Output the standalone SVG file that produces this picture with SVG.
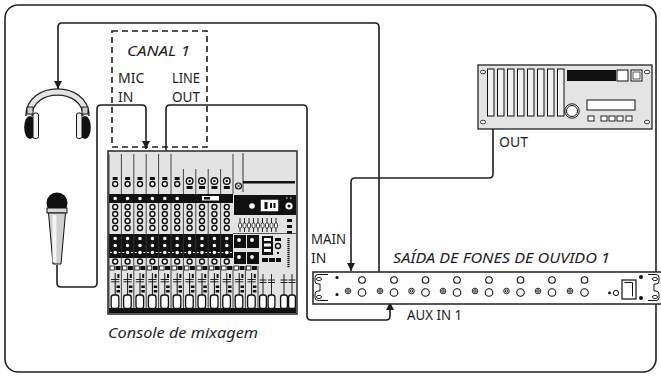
<svg xmlns="http://www.w3.org/2000/svg" width="661" height="376" viewBox="0 0 661 376">
<defs>
<style>
.ln{fill:none;stroke:#1e1e1e;stroke-width:1.6;stroke-linejoin:round}
.t{font-family:"Noto Sans","DejaVu Sans",sans-serif;fill:#1e1e1e;font-size:14px}
.ti{font-style:italic;font-size:15px}
.k{fill:#fff;stroke:#111;stroke-width:1.4}
.dv{stroke:#333;stroke-width:0.9}
.bk{fill:#111}
.wb{fill:#fff;stroke:#111;stroke-width:0.8}
</style>
<marker id="ah" viewBox="0 0 10 10" refX="10" refY="5" markerWidth="8" markerHeight="9" orient="auto" markerUnits="userSpaceOnUse">
<path d="M0,0 L10,5 L0,10 z" fill="#1e1e1e"/>
</marker>
<g id="chb">
<line class="dv" x1="0" y1="203" x2="0" y2="266"/>
<circle class="k" cx="6.2" cy="207" r="2.5"/>
<circle class="k" cx="6.2" cy="214" r="2.5"/>
<circle class="k" cx="6.2" cy="221" r="2.5"/>
<circle class="k" cx="6.2" cy="228" r="2.5"/>
<circle class="k" cx="6.2" cy="238.5" r="2.5"/>
<circle class="k" cx="6.2" cy="245.5" r="2.5"/>
<circle class="k" cx="6.2" cy="252.5" r="2.5"/>
<path d="M1,252.5h1.8 M9.6,252.5h1.8" stroke="#fff" stroke-width="1"/>
<circle class="k" cx="6.2" cy="261.5" r="2.5"/>
</g>
<g id="fd">
<line class="dv" x1="0" y1="266" x2="0" y2="308"/>
<rect class="wb" x="1" y="266" width="4.5" height="4"/>
<rect class="bk" x="6.5" y="266" width="5" height="4"/>
<line x1="6.2" y1="273" x2="6.2" y2="296" stroke="#111" stroke-width="1"/>
<path d="M2,279.5h8.4 M2,281.8h8.4" stroke="#111" stroke-width="0.9"/>
<rect class="bk" x="8.4" y="274" width="2" height="4"/>
<rect class="bk" x="7.5" y="285.5" width="3.5" height="2.5"/>
<rect class="bk" x="7.5" y="290" width="3.5" height="2.5"/>
<rect x="2.2" y="295" width="7.6" height="13.5" rx="2.5" fill="#fff" stroke="#111" stroke-width="1.3"/>
</g>
<g id="chm">
<line class="dv" x1="0" y1="154" x2="0" y2="194"/>
<rect class="bk" x="3.7" y="177" width="5" height="3"/>
<circle class="k" cx="6.2" cy="184" r="2.5"/>
<circle class="k" cx="6.2" cy="198.5" r="2.5"/>
</g>
<g id="chs">
<line class="dv" x1="0" y1="169" x2="0" y2="194"/>
<circle cx="6.2" cy="181" r="3.3" fill="#fff" stroke="#111" stroke-width="1.4"/>
<circle cx="6.2" cy="181" r="1.3" fill="#111"/>
<rect class="bk" x="3.2" y="186" width="6" height="3"/>
</g>
</defs>

<rect x="5" y="5" width="651" height="367" rx="13" fill="#fff" stroke="#222" stroke-width="1.6"/>

<g id="connectors">
<path class="ln" d="M379,272 V27 Q379,23 375,23 H62 Q58,23 58,27 V89" marker-end="url(#ah)"/>
<path class="ln" d="M57,265 V283 Q57,287 61,287 H93 Q97,287 97,283 V109 Q97,105 101,105 H142 Q146,105 146,109 V149" marker-end="url(#ah)"/>
<path class="ln" d="M166,151 V109 Q166,105 170,105 H303 Q307,105 307,109 V316 Q307,320 311,320 H386 Q390,320 390,316 V302" marker-end="url(#ah)"/>
<path class="ln" d="M493,129 V174 Q493,178 489,178 H355 Q351,178 351,182 V271" marker-end="url(#ah)"/>
</g>

<g id="canal1">
<rect x="112" y="31" width="95" height="116" fill="none" stroke="#1e1e1e" stroke-width="1.6" stroke-dasharray="6,4"/>
<text class="t ti" x="127" y="56" textLength="63" lengthAdjust="spacingAndGlyphs">CANAL 1</text>
<text class="t" x="118" y="83">MIC</text>
<text class="t" x="118" y="102">IN</text>
<text class="t" x="172" y="83" textLength="28" lengthAdjust="spacingAndGlyphs">LINE</text>
<text class="t" x="172" y="102" textLength="28" lengthAdjust="spacingAndGlyphs">OUT</text>
</g>

<g id="headphones">
<path d="M29,116 C29,84 86,84 86,116" fill="none" stroke="#222" stroke-width="7.5"/>
<path d="M29,116 C29,84 86,84 86,116" fill="none" stroke="#e4e4e4" stroke-width="4.8"/>
<rect x="27" y="107" width="6" height="7" fill="#ccc" stroke="#111" stroke-width="0.9"/>
<rect x="82" y="107" width="6" height="7" fill="#ccc" stroke="#111" stroke-width="0.9"/>
<ellipse cx="30" cy="127.5" rx="5.8" ry="11.5" fill="#111"/>
<rect x="33" y="113" width="5.5" height="25.5" rx="2" fill="#f0f0f0" stroke="#111" stroke-width="1"/>
<ellipse cx="85" cy="127.5" rx="5.8" ry="11.5" fill="#111"/>
<rect x="76.5" y="113" width="5.5" height="25.5" rx="2" fill="#f0f0f0" stroke="#111" stroke-width="1"/>
</g>

<g id="microphone">
<circle cx="57" cy="203" r="10.5" fill="#111"/>
<rect x="47" y="208" width="20" height="5" fill="#d8d8d8" stroke="#111" stroke-width="1"/>
<path d="M48.5,213 L65.5,213 L61,264 L53,264 Z" fill="#cfcfcf" stroke="#111" stroke-width="1"/>
<rect x="52.5" y="215" width="4" height="47" fill="#f4f4f4"/>
</g>

<g id="mixer">
<rect x="108" y="151" width="189" height="163" fill="#e3e3e3" stroke="#333" stroke-width="1.6"/>
<rect class="bk" x="109" y="194" width="124" height="9"/>
<rect class="bk" x="109" y="234" width="124" height="24"/>
<rect class="bk" x="109" y="308" width="187" height="5"/>
<use href="#chm" x="109"/><use href="#chm" x="121.4"/><use href="#chm" x="133.8"/>
<use href="#chm" x="146.2"/><use href="#chm" x="158.6"/><use href="#chm" x="171"/>
<use href="#chs" x="183.4"/><use href="#chs" x="195.8"/><use href="#chs" x="208.2"/><use href="#chs" x="220.6"/>
<rect x="202" y="196" width="17" height="4.5" fill="#fff"/>
<rect x="204" y="197" width="6" height="2.5" fill="#111"/>
<use href="#chb" x="109"/><use href="#chb" x="121.4"/><use href="#chb" x="133.8"/>
<use href="#chb" x="146.2"/><use href="#chb" x="158.6"/><use href="#chb" x="171"/>
<use href="#chb" x="183.4"/><use href="#chb" x="195.8"/><use href="#chb" x="208.2"/><use href="#chb" x="220.6"/>
<use href="#fd" x="109"/><use href="#fd" x="121.4"/><use href="#fd" x="133.8"/>
<use href="#fd" x="146.2"/><use href="#fd" x="158.6"/><use href="#fd" x="171"/>
<use href="#fd" x="183.4"/><use href="#fd" x="195.8"/><use href="#fd" x="208.2"/><use href="#fd" x="220.6"/>
<use href="#fd" x="233"/><use href="#fd" x="245.4"/>
<line class="dv" x1="233" y1="154" x2="233" y2="194"/>
<line x1="243" y1="153" x2="243" y2="192" stroke="#333" stroke-width="1"/>
<rect class="bk" x="243" y="181" width="52" height="2.5"/>
<circle cx="238.5" cy="186" r="3" fill="#fff" stroke="#111" stroke-width="1.2"/>
<path d="M236.5,184 l4,4 M240.5,184 l-4,4" stroke="#111" stroke-width="0.8"/>
<rect class="bk" x="234" y="195" width="62" height="20"/>
<circle cx="252" cy="206" r="2.8" fill="#fff"/>
<rect x="261" y="200" width="17" height="11" fill="#fff" stroke="#fff" stroke-width="0.5"/>
<rect class="bk" x="264.5" y="202" width="3" height="7"/>
<rect class="bk" x="270" y="203" width="2" height="5"/><rect class="bk" x="273.5" y="203" width="2" height="5"/>
<circle cx="289" cy="206" r="3.6" fill="#fff"/>
<circle cx="289" cy="206" r="1.5" fill="#111"/>
<path d="M286,198h1.5 M290,198h1.5" stroke="#fff" stroke-width="1"/>
<g stroke="#111" stroke-width="0.9">
<path d="M240,218v14 M244.5,218v14 M249,218v14 M253.5,218v14 M258,218v14 M262.5,218v14 M267,218v14 M271.5,218v14 M276,218v14"/>
</g>
<g fill="#fff" stroke="#111" stroke-width="0.8">
<rect x="238.5" y="223" width="3" height="5" rx="1.2"/><rect x="243" y="223" width="3" height="5" rx="1.2"/>
<rect x="247.5" y="223" width="3" height="5" rx="1.2"/><rect x="252" y="223" width="3" height="5" rx="1.2"/>
<rect x="256.5" y="223" width="3" height="5" rx="1.2"/><rect x="261" y="223" width="3" height="5" rx="1.2"/>
<rect x="265.5" y="223" width="3" height="5" rx="1.2"/><rect x="270" y="223" width="3" height="5" rx="1.2"/>
<rect x="274.5" y="223" width="3" height="5" rx="1.2"/>
</g>
<rect class="bk" x="287" y="219" width="5" height="3"/>
<rect class="bk" x="287" y="225" width="5" height="3"/>
<rect class="bk" x="287" y="231" width="5" height="3"/>
<line x1="233" y1="233.5" x2="296" y2="233.5" stroke="#333" stroke-width="0.8"/>
<rect class="bk" x="234" y="235" width="12" height="13"/>
<rect class="bk" x="247" y="235" width="12" height="13"/>
<rect class="bk" x="234" y="252" width="12" height="12"/>
<rect class="bk" x="247" y="252" width="12" height="12"/>
<circle class="k" cx="239" cy="240" r="2.6"/><circle class="k" cx="252" cy="240" r="2.6"/>
<circle class="k" cx="239" cy="257" r="2.6"/><circle class="k" cx="252" cy="257" r="2.6"/>
<rect class="bk" x="262" y="236" width="11" height="19"/>
<rect x="264" y="238" width="7" height="3" fill="#fff"/>
<rect x="264" y="243.5" width="7" height="3" fill="#fff"/>
<rect x="264" y="249" width="7" height="3" fill="#fff"/>
<rect class="bk" x="275" y="238" width="6" height="3"/>
<circle class="k" cx="278" cy="246" r="2.5"/>
<rect class="bk" x="277" y="252" width="2" height="2"/>
<line x1="288.5" y1="238" x2="288.5" y2="268" stroke="#111" stroke-width="2.2" stroke-dasharray="1.2,0.8"/>
<rect class="bk" x="262" y="258" width="6" height="4"/><rect class="bk" x="269" y="258" width="6" height="4"/>
<rect class="bk" x="276" y="258" width="5" height="4"/>
<line class="dv" x1="258" y1="266" x2="258" y2="308"/>
<g stroke="#111" stroke-width="0.9">
<path d="M263,274v22 M271.5,274v22 M284,274v22 M292,274v22"/>
<path d="M259.5,280h7 M268,280h7 M280.5,280h7 M288.5,280h7 M259.5,282.5h7 M268,282.5h7 M280.5,282.5h7 M288.5,282.5h7"/>
</g>
<g fill="#fff" stroke="#111" stroke-width="1.3">
<rect x="259.6" y="295" width="6.8" height="13.5" rx="2.3"/>
<rect x="268.1" y="295" width="6.8" height="13.5" rx="2.3"/>
<rect x="280.6" y="295" width="6.8" height="13.5" rx="2.3"/>
<rect x="288.6" y="295" width="6.8" height="13.5" rx="2.3"/>
</g>
<text class="t ti" x="108" y="338" textLength="150" lengthAdjust="spacingAndGlyphs">Console de mixagem</text>
</g>

<g id="effects-rack">
<rect x="478" y="65" width="174" height="64" fill="#e4e4e4" stroke="#222" stroke-width="1.3"/>
<g fill="#fff" stroke="#111" stroke-width="0.8">
<ellipse cx="483" cy="72" rx="2.6" ry="1.8"/><ellipse cx="483" cy="122" rx="2.6" ry="1.8"/>
<ellipse cx="647" cy="72" rx="2.6" ry="1.8"/><ellipse cx="647" cy="122" rx="2.6" ry="1.8"/>
</g>
<g fill="#f2f2f2" stroke="#111" stroke-width="1">
<rect x="487.5" y="69" width="6.5" height="47"/><rect x="497.5" y="69" width="6.5" height="47"/>
<rect x="507.5" y="69" width="6.5" height="47"/><rect x="517.5" y="69" width="6.5" height="47"/>
<rect x="527.5" y="69" width="6.5" height="47"/><rect x="537.5" y="69" width="6.5" height="47"/>
<rect x="547.5" y="69" width="6.5" height="47"/><rect x="557.5" y="69" width="6.5" height="47"/>
</g>
<rect x="567" y="70" width="49" height="11" fill="#111"/>
<rect x="617" y="70" width="11" height="11" fill="#fff" stroke="#111" stroke-width="1"/>
<rect x="631" y="70" width="11" height="11" fill="#fff" stroke="#111" stroke-width="1"/>
<rect x="633" y="72" width="7" height="7" fill="#fff" stroke="#111" stroke-width="0.7"/>
<circle cx="572" cy="111" r="7.2" fill="#fff" stroke="#111" stroke-width="1"/>
<circle cx="572" cy="111" r="5.5" fill="#fff" stroke="#111" stroke-width="1"/>
<rect x="587" y="100" width="48" height="10" fill="#fff" stroke="#111" stroke-width="1"/>
<g fill="#fff" stroke="#111" stroke-width="0.9">
<rect x="588" y="116" width="6" height="5"/><rect x="601" y="116" width="6" height="5"/>
<rect x="609" y="116" width="6" height="5"/><rect x="617" y="116" width="6" height="5"/>
<rect x="626" y="116" width="6" height="5"/>
</g>
<text class="t" x="499" y="147" textLength="29" lengthAdjust="spacingAndGlyphs">OUT</text>
</g>

<g id="headphone-amp">
<rect x="313" y="272" width="350" height="32" fill="#fff" stroke="#222" stroke-width="1.5"/>
<path d="M328,274.5 H318 a3,3 0 0 0 -3,3 v3.5 a3,3 0 0 0 3,3 h2 v7 h-2 a3,3 0 0 0 -3,3 v3.5 a3,3 0 0 0 3,3 h10" fill="none" stroke="#111" stroke-width="1"/>
<path d="M648,274.5 H656 a3,3 0 0 1 3,3 v3.5 a3,3 0 0 1 -3,3 h-2 v7 h2 a3,3 0 0 1 3,3 v3.5 a3,3 0 0 1 -3,3 h-8" fill="none" stroke="#111" stroke-width="1"/>
<g fill="#fff" stroke="#111" stroke-width="0.9">
<ellipse cx="319" cy="279" rx="2.6" ry="1.6"/><ellipse cx="319" cy="297" rx="2.6" ry="1.6"/>
<ellipse cx="655" cy="279" rx="2.6" ry="1.6"/><ellipse cx="655" cy="297" rx="2.6" ry="1.6"/>
</g>
<circle cx="337" cy="277.5" r="1.6" fill="#111"/><circle cx="337" cy="294.5" r="1.6" fill="#111"/>
<g fill="#fff" stroke="#111" stroke-width="1.1">
<circle cx="362" cy="280" r="3.3"/><circle cx="394" cy="280" r="3.3"/><circle cx="425.5" cy="280" r="3.3"/>
<circle cx="457" cy="280" r="3.3"/><circle cx="489" cy="280" r="3.3"/><circle cx="520.5" cy="280" r="3.3"/>
<circle cx="552" cy="280" r="3.3"/><circle cx="584.5" cy="280" r="3.3"/>
<circle cx="362" cy="292.5" r="3.8"/><circle cx="394" cy="292.5" r="3.8"/><circle cx="425.5" cy="292.5" r="3.8"/>
<circle cx="457" cy="292.5" r="3.8"/><circle cx="489" cy="292.5" r="3.8"/><circle cx="520.5" cy="292.5" r="3.8"/>
<circle cx="552" cy="292.5" r="3.8"/><circle cx="584.5" cy="292.5" r="3.8"/>
</g>
<g fill="#fff" stroke="#111" stroke-width="0.9">
<circle cx="348" cy="291" r="2.8"/><circle cx="380" cy="291" r="2.8"/><circle cx="411.5" cy="291" r="2.8"/>
<circle cx="443" cy="291" r="2.8"/><circle cx="475" cy="291" r="2.8"/><circle cx="506.5" cy="291" r="2.8"/>
<circle cx="538" cy="291" r="2.8"/><circle cx="570" cy="291" r="2.8"/>
<circle cx="348" cy="291" r="1.3"/><circle cx="380" cy="291" r="1.3"/><circle cx="411.5" cy="291" r="1.3"/>
<circle cx="443" cy="291" r="1.3"/><circle cx="475" cy="291" r="1.3"/><circle cx="506.5" cy="291" r="1.3"/>
<circle cx="538" cy="291" r="1.3"/><circle cx="570" cy="291" r="1.3"/>
</g>
<circle cx="609.5" cy="293" r="1.4" fill="#111"/>
<circle cx="616" cy="293" r="2.6" fill="#fff" stroke="#111" stroke-width="1"/>
<rect x="622" y="280" width="14" height="19" fill="#fff" stroke="#111" stroke-width="1.2"/>
<path d="M624.5,282.5 h8 v14" fill="none" stroke="#111" stroke-width="1"/>
<circle cx="641" cy="277" r="2" fill="#111"/><circle cx="641" cy="298" r="2" fill="#111"/>
<text class="t ti" x="393" y="263" textLength="217" lengthAdjust="spacingAndGlyphs">SAÍDA DE FONES DE OUVIDO 1</text>
<text class="t" x="311" y="244" textLength="35" lengthAdjust="spacingAndGlyphs">MAIN</text>
<text class="t" x="311" y="263">IN</text>
<text class="t" x="407" y="320" textLength="55" lengthAdjust="spacingAndGlyphs">AUX IN 1</text>
</g>
</svg>
